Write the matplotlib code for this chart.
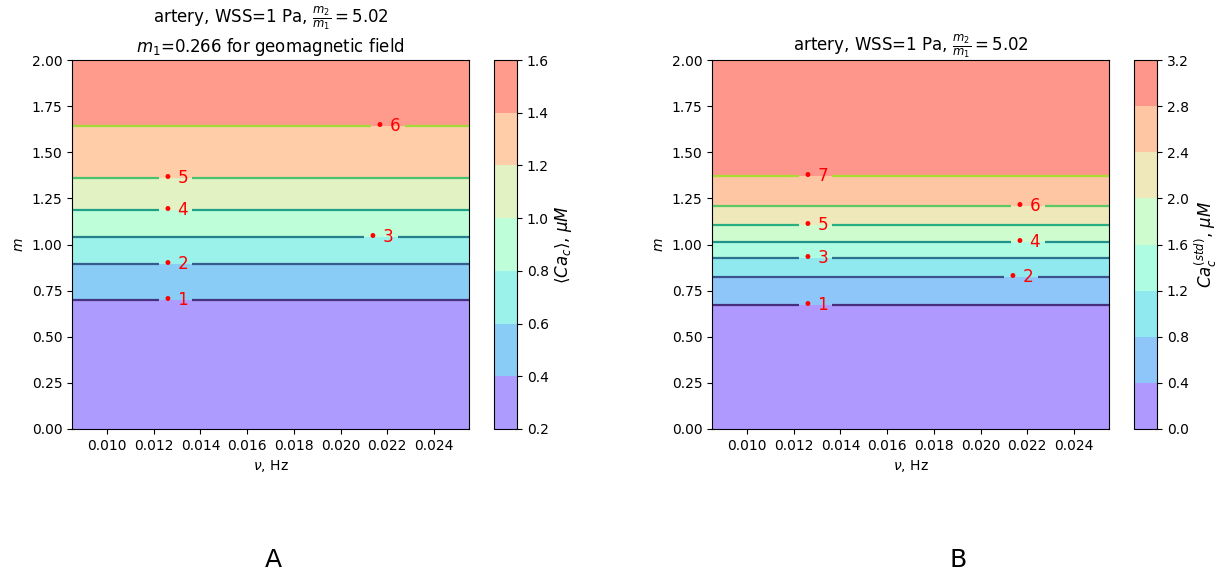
import numpy as np
import matplotlib
matplotlib.use("Agg")
import matplotlib.pyplot as plt

# ---- data ----
nu_range = [0.0085, 0.0255]
m_range = [0.0, 2.0]

# Panel A: mean Ca_c
levels_A = [0.2, 0.4, 0.6, 0.8, 1.0, 1.2, 1.4, 1.6]
line_levels_A = [0.4, 0.6, 0.8, 1.0, 1.2, 1.4]
m_cross_A = [0.699, 0.894, 1.041, 1.187, 1.360, 1.642]
z_ends_A = [0.30, 1.50]
label_nu_A = [0.01259, 0.01259, 0.0214, 0.01259, 0.01259, 0.0217]

# Panel B: std Ca_c
levels_B = [0.0, 0.4, 0.8, 1.2, 1.6, 2.0, 2.4, 2.8, 3.2]
line_levels_B = [0.4, 0.8, 1.2, 1.6, 2.0, 2.4, 2.8]
m_cross_B = [0.672, 0.824, 0.927, 1.014, 1.106, 1.209, 1.371]
z_ends_B = [0.20, 3.00]
label_nu_B = [0.01259, 0.0214, 0.01259, 0.0217, 0.01259, 0.0217, 0.01259]

xticks = [0.010, 0.012, 0.014, 0.016, 0.018, 0.020, 0.022, 0.024]
yticks = [0.00, 0.25, 0.50, 0.75, 1.00, 1.25, 1.50, 1.75, 2.00]

title_A = "artery, WSS=1 Pa, $\\frac{m_2}{m_1}=5.02$\n$m_1$=0.266 for geomagnetic field"
title_B = "artery, WSS=1 Pa, $\\frac{m_2}{m_1}=5.02$"
cbar_label_A = "$\\langle Ca_c\\rangle$, $\\mu M$"
cbar_label_B = "$Ca_c^{(std)}$, $\\mu M$"

W, H = 1217, 575
fig = plt.figure(figsize=(W / 100, H / 100), dpi=100)


def panel(ax_px, cb_px, levels, line_levels, m_cross, z_ends, label_nu,
          title, cbar_label, letter, letter_x):
    ax = fig.add_axes([ax_px[0] / W, 1 - ax_px[3] / H,
                       (ax_px[1] - ax_px[0]) / W, (ax_px[3] - ax_px[2]) / H])
    cax = fig.add_axes([cb_px[0] / W, 1 - ax_px[3] / H,
                        (cb_px[1] - cb_px[0]) / W, (ax_px[3] - ax_px[2]) / H])
    nu = np.linspace(nu_range[0], nu_range[1], 200)
    m = np.linspace(m_range[0], m_range[1], 801)
    NU, M = np.meshgrid(nu, m)
    m_pts = [m_range[0]] + list(m_cross) + [m_range[1]]
    z_pts = [z_ends[0]] + list(line_levels) + [z_ends[1]]
    Z = np.interp(M, m_pts, z_pts)

    cf = ax.contourf(NU, M, Z, levels=levels, cmap="rainbow", alpha=0.5)
    cs = ax.contour(NU, M, Z, levels=line_levels, cmap="viridis",
                    vmin=levels[0], vmax=levels[-1], linewidths=1.6)
    fmt = {lev: "\u2022 %d" % (i + 1) for i, lev in enumerate(cs.levels)}
    dx = 0.00034
    manual = [(x + dx, y) for x, y in zip(label_nu, m_cross)]
    ax.clabel(cs, levels=cs.levels, fmt=fmt, manual=manual,
              inline=True, inline_spacing=4, fontsize=12, colors="red")

    ax.set_xlim(nu_range)
    ax.set_ylim(m_range)
    ax.set_xticks(xticks)
    ax.set_xticklabels(["%.3f" % v for v in xticks])
    ax.set_yticks(yticks)
    ax.set_yticklabels(["%.2f" % v for v in yticks])
    ax.tick_params(labelsize=10)
    ax.set_xlabel("$\\nu$, Hz", fontsize=10)
    ax.set_ylabel("$m$", fontsize=10)
    ax.set_title(title, fontsize=12)

    cb = fig.colorbar(cf, cax=cax, ticks=levels)
    cb.ax.set_yticklabels(["%.1f" % v for v in levels])
    cb.ax.tick_params(labelsize=10)
    cb.set_label(cbar_label, fontsize=12, labelpad=3)
    fig.text(letter_x / W, 1 - 560 / H, letter, fontsize=18,
             ha="center", va="center")


panel((72, 469, 60, 429), (494, 517), levels_A, line_levels_A, m_cross_A,
      z_ends_A, label_nu_A, title_A, cbar_label_A, "A", 273)
panel((712, 1109, 60, 429), (1134, 1157), levels_B, line_levels_B, m_cross_B,
      z_ends_B, label_nu_B, title_B, cbar_label_B, "B", 958)

fig.savefig("out.png", dpi=100)
